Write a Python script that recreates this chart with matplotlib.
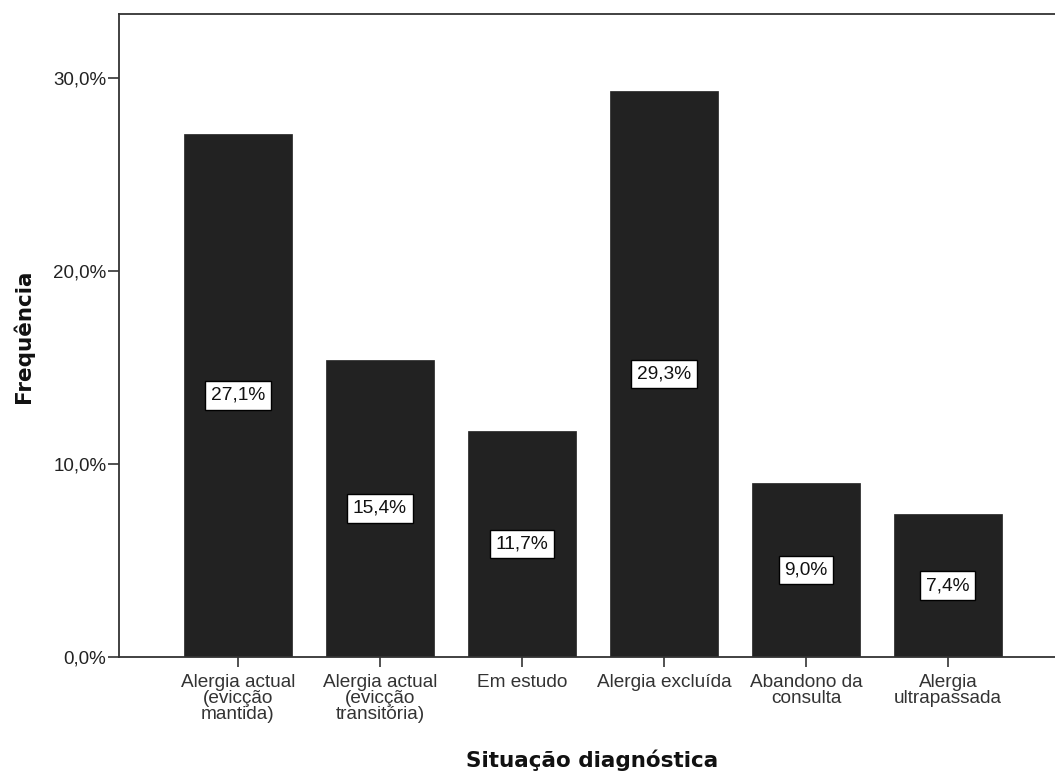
import matplotlib
matplotlib.use("Agg")
import matplotlib.pyplot as plt
from matplotlib.ticker import FuncFormatter

categories = ["Alergia actual\n(evicção\nmantida)", "Alergia actual\n(evicção\ntransitória)",
              "Em estudo", "Alergia excluída", "Abandono da\nconsulta", "Alergia\nultrapassada"]
values = [27.1, 15.4, 11.7, 29.3, 9.0, 7.4]
labels = ["27,1%", "15,4%", "11,7%", "29,3%", "9,0%", "7,4%"]
yticks = [0, 10, 20, 30]

plt.rcParams['font.family'] = ['Liberation Sans', 'DejaVu Sans']

fig = plt.figure(figsize=(10.55, 7.72), dpi=100)
ax = fig.add_axes([119/1055, 1-657/772, 1-119/1055, (657-14)/772])

x = list(range(len(values)))
bars = ax.bar(x, values, width=0.76, color="#222222", edgecolor="#222222", linewidth=0.5)
for xi, v, lab in zip(x, values, labels):
    ax.text(xi, v/2, lab, ha="center", va="center", fontsize=13.8, color="#111111",
            bbox=dict(boxstyle="square,pad=0.3", facecolor="white", edgecolor="black", linewidth=1))

ax.set_xlim(-0.838, 5.754)
ax.set_ylim(0, 33.3)
ax.set_yticks(yticks)
ax.yaxis.set_major_formatter(FuncFormatter(lambda v, p: f"{v:.1f}%".replace(".", ",")))
ax.set_xticks(x)
ax.set_xticklabels(categories, fontsize=13.7, linespacing=0.95, color="#222222")
ax.tick_params(axis="y", labelsize=13.5, length=8, width=1.2, pad=1, colors="#333333", labelcolor="#222222")
ax.tick_params(axis="x", length=7, width=1.2, pad=5, colors="#333333")

for s in ["left", "bottom", "top"]:
    ax.spines[s].set_linewidth(1.3)
    ax.spines[s].set_color("#333333")
ax.spines["right"].set_visible(False)

fig.text(23/1055, 1-336/772, "Frequência", rotation=90, ha="center", va="center",
         fontsize=15.5, fontweight="bold", family=["DejaVu Sans"], color="#111111")
fig.text(592/1055, 1-760/772, "Situação diagnóstica", ha="center", va="center",
         fontsize=15.5, fontweight="bold", family=["DejaVu Sans"], color="#111111")

fig.savefig("out.png", dpi=100)
